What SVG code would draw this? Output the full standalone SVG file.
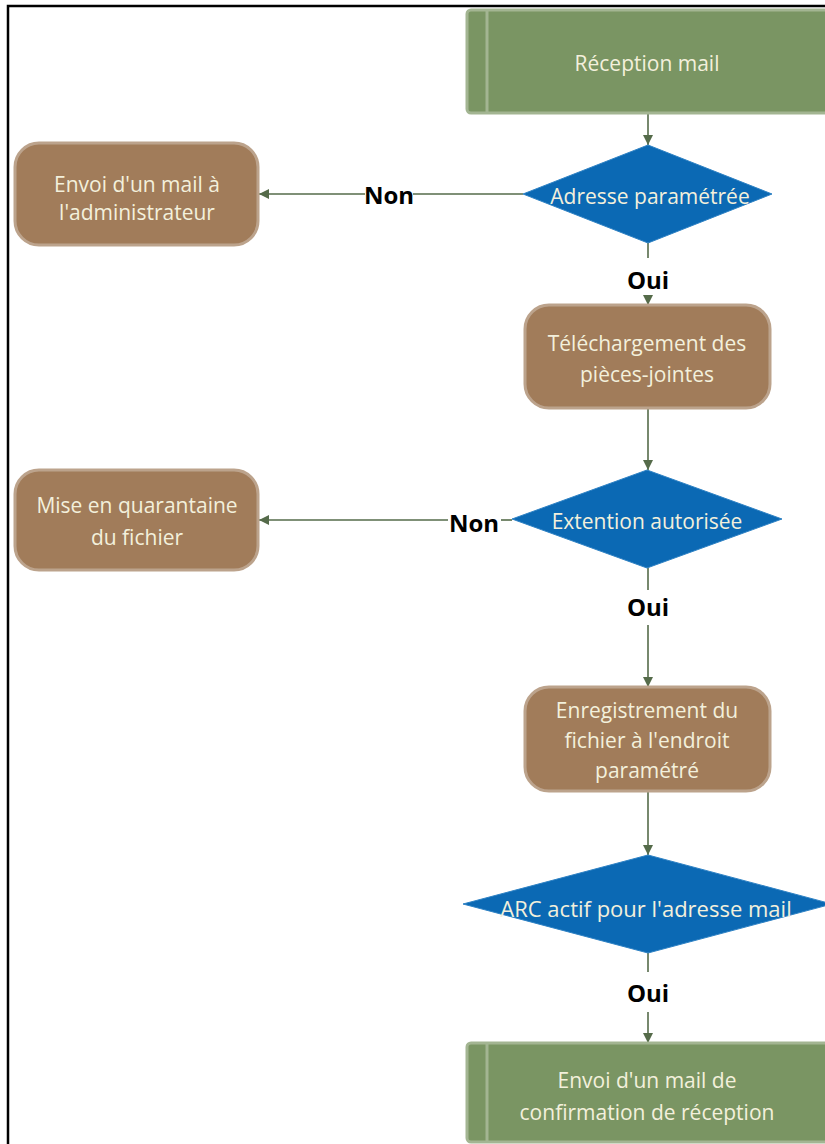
<svg xmlns="http://www.w3.org/2000/svg" width="825" height="1144" viewBox="0 0 825 1144">
<style>
.green{fill:#7a9563;stroke:#a3b592;stroke-width:3}
.stripe{stroke:#a3b592;stroke-width:3}
.brown{fill:#a17c5a;stroke:#bca38c;stroke-width:3}
.blue{fill:#0b69b4;stroke:#2f82c4;stroke-width:1}
.t{font-family:"Open Sans","DejaVu Sans",sans-serif;font-size:21px;fill:#f3f0dc;text-anchor:middle;dominant-baseline:central}
.lbl{font-family:"Open Sans","DejaVu Sans",sans-serif;font-size:24px;font-weight:bold;fill:#000;text-anchor:middle;dominant-baseline:central}
.c{stroke:#556b4a;stroke-width:1.6;fill:none}
</style>
<defs>
<marker id="ah" viewBox="0 0 10 10" refX="10" refY="5" markerWidth="10" markerHeight="10" markerUnits="userSpaceOnUse" orient="auto">
<path d="M0,0 L10,5 L0,10 z" fill="#556b4a"/>
</marker>
</defs>
<rect width="825" height="1144" fill="#fff"/>
<g id="frame">
<path d="M8,1144 V6 H825" fill="none" stroke="#000" stroke-width="2.5"/>
</g>
<g id="connectors">
<path class="c" d="M648,114 V145" marker-end="url(#ah)"/>
<path class="c" d="M523,194 H413"/>
<path class="c" d="M365,194 H259" marker-end="url(#ah)"/>
<path class="c" d="M648,243 V258"/>
<path class="c" d="M648,297 V305" marker-end="url(#ah)"/>
<path class="c" d="M648,409 V470" marker-end="url(#ah)"/>
<path class="c" d="M512,520 H501"/>
<path class="c" d="M448,520 H259" marker-end="url(#ah)"/>
<path class="c" d="M648,568 V590"/>
<path class="c" d="M648,625 V687" marker-end="url(#ah)"/>
<path class="c" d="M648,792 V855" marker-end="url(#ah)"/>
<path class="c" d="M648,953 V972"/>
<path class="c" d="M648,1012 V1043" marker-end="url(#ah)"/>
</g>
<g id="labels">
<text class="lbl" x="389" y="194">Non</text>
<text class="lbl" x="648" y="279">Oui</text>
<text class="lbl" x="474" y="522">Non</text>
<text class="lbl" x="648" y="606">Oui</text>
<text class="lbl" x="648" y="992">Oui</text>
</g>
<g id="reception-mail">
<rect class="green" x="467" y="10" width="362" height="103" rx="4"/>
<line class="stripe" x1="487" y1="11" x2="487" y2="112"/>
<text class="t" x="647" y="63">Réception mail</text>
</g>
<g id="adresse-parametree">
<polygon class="blue" points="648,145 772,194 648,243 523,194"/>
<text class="t" x="650" y="196">Adresse paramétrée</text>
</g>
<g id="envoi-admin">
<rect class="brown" x="15" y="143" width="243" height="102" rx="24"/>
<text class="t" x="137" y="184">Envoi d'un mail à</text>
<text class="t" x="137" y="212">l'administrateur</text>
</g>
<g id="telechargement">
<rect class="brown" x="525" y="305" width="245" height="103" rx="24"/>
<text class="t" x="647" y="343">Téléchargement des</text>
<text class="t" x="647" y="374">pièces-jointes</text>
</g>
<g id="extention-autorisee">
<polygon class="blue" points="647,470 782,519 647,568 512,519"/>
<text class="t" x="647" y="521">Extention autorisée</text>
</g>
<g id="quarantaine">
<rect class="brown" x="15" y="470" width="243" height="100" rx="24"/>
<text class="t" x="137" y="505">Mise en quarantaine</text>
<text class="t" x="137" y="537">du fichier</text>
</g>
<g id="enregistrement">
<rect class="brown" x="525" y="687" width="245" height="104" rx="24"/>
<text class="t" x="647" y="710">Enregistrement du</text>
<text class="t" x="647" y="740">fichier à l'endroit</text>
<text class="t" x="647" y="770">paramétré</text>
</g>
<g id="arc-actif">
<polygon class="blue" points="648,855 832,904 648,953 463,904"/>
<text class="t" x="646" y="908" style="font-size:22px">ARC actif pour l'adresse mail</text>
</g>
<g id="envoi-confirmation">
<rect class="green" x="467" y="1043" width="362" height="99" rx="4"/>
<line class="stripe" x1="487" y1="1044" x2="487" y2="1141"/>
<text class="t" x="647" y="1080">Envoi d'un mail de</text>
<text class="t" x="647" y="1112">confirmation de réception</text>
</g>
</svg>
